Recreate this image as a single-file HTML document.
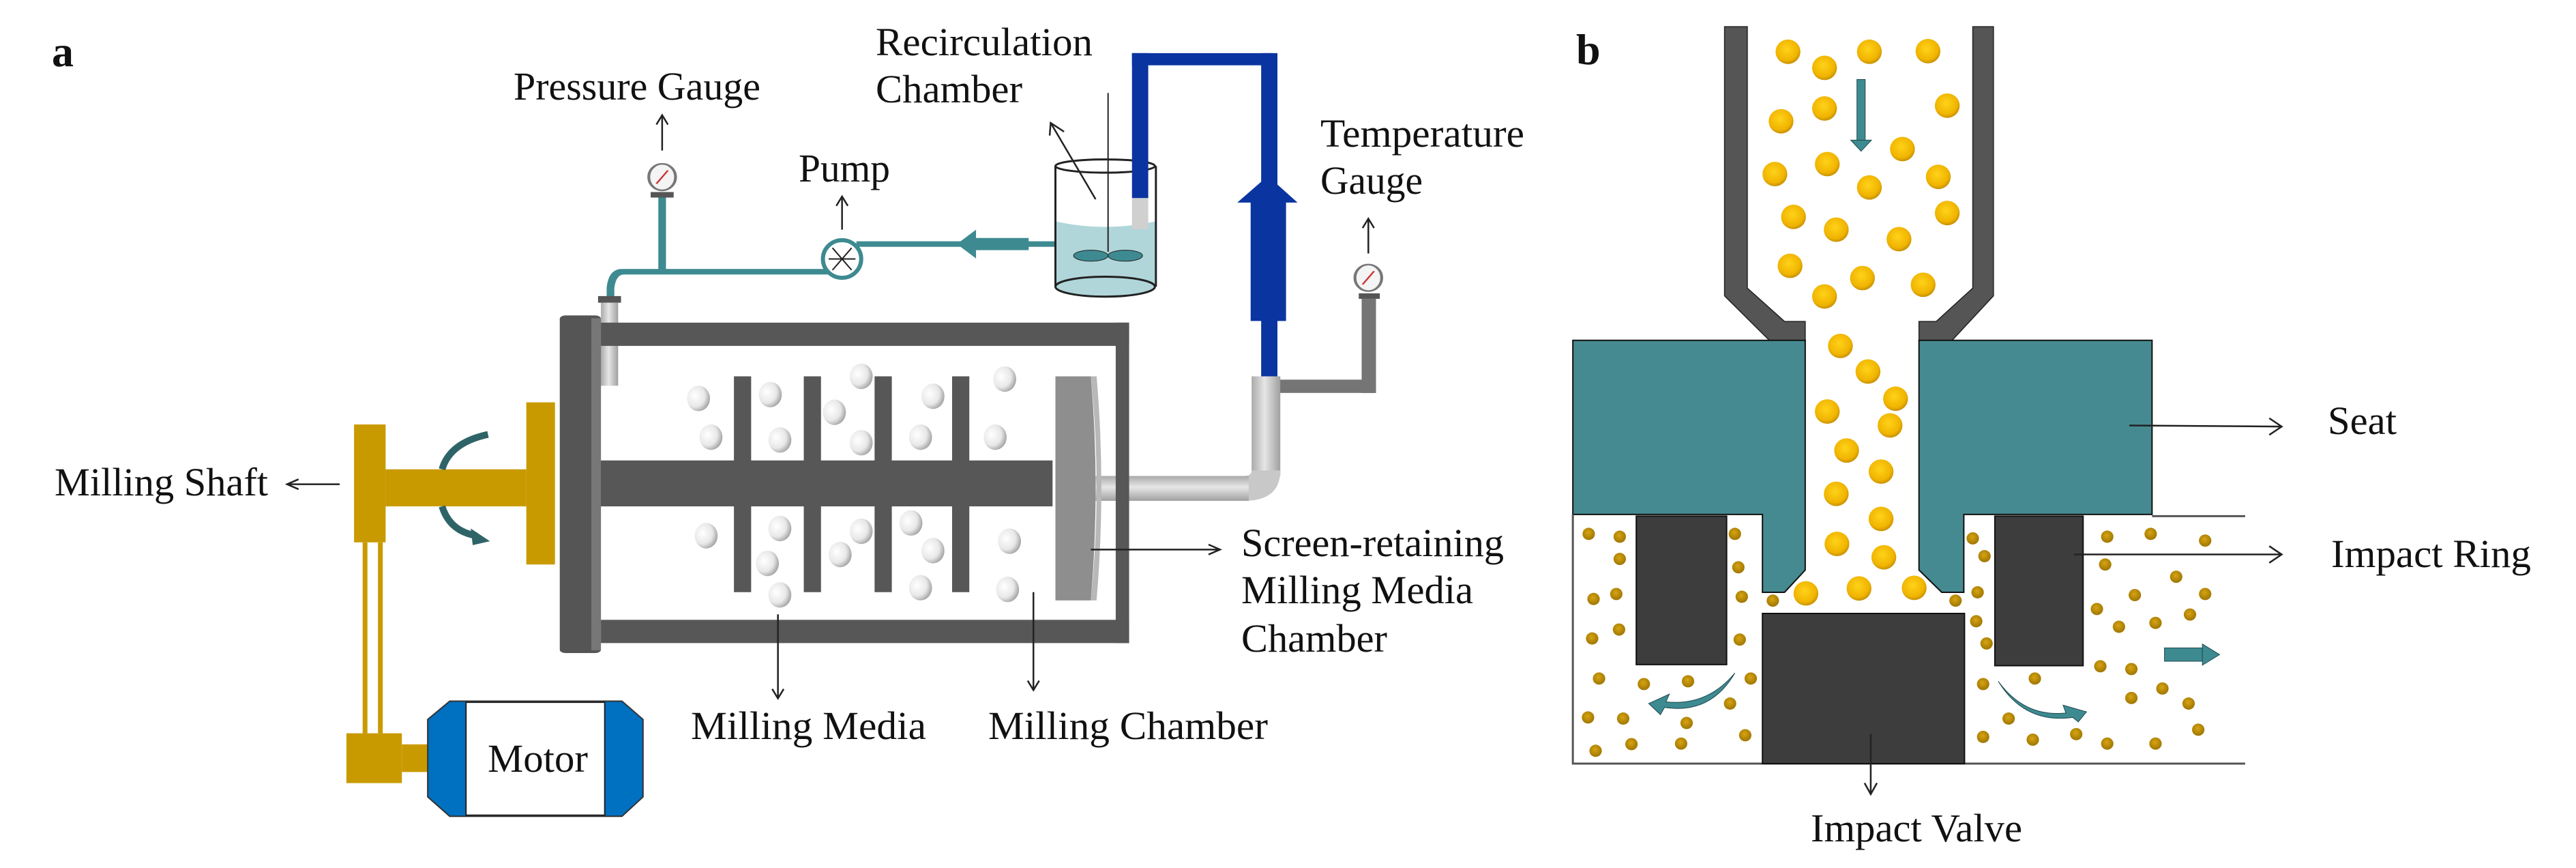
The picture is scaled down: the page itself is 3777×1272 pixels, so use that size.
<!DOCTYPE html>
<html><head><meta charset="utf-8">
<style>
html,body{margin:0;padding:0;background:#fff;}
svg{display:block;}
text{font-family:"Liberation Serif","DejaVu Serif",serif;fill:#111;}
</style></head>
<body>
<svg width="3777" height="1272" viewBox="0 0 3777 1272" xmlns="http://www.w3.org/2000/svg">
<defs>
<radialGradient id="ball" cx="0.35" cy="0.4" r="0.7">
<stop offset="0" stop-color="#ffffff"/><stop offset="0.6" stop-color="#e8e8e8"/><stop offset="1" stop-color="#9a9a9a"/></radialGradient>
<radialGradient id="gold" cx="0.45" cy="0.4" r="0.65">
<stop offset="0" stop-color="#ffd21a"/><stop offset="0.7" stop-color="#f0b400"/><stop offset="1" stop-color="#b98400"/></radialGradient>
<radialGradient id="gold2" cx="0.45" cy="0.4" r="0.65">
<stop offset="0" stop-color="#d7a412"/><stop offset="1" stop-color="#9a7200"/></radialGradient>
<linearGradient id="pipeV" x1="0" x2="1" y1="0" y2="0">
<stop offset="0" stop-color="#aaa"/><stop offset="0.45" stop-color="#e6e6e6"/><stop offset="1" stop-color="#a0a0a0"/></linearGradient>
<linearGradient id="pipeH" x1="0" x2="0" y1="0" y2="1">
<stop offset="0" stop-color="#aaa"/><stop offset="0.45" stop-color="#e6e6e6"/><stop offset="1" stop-color="#a0a0a0"/></linearGradient>
</defs>

<g transform="matrix(1.403,0,0,0.811,0,0)">
  <g fill="#3e8a91">
    <rect x="688" y="355" width="8" height="140"/>
    <rect x="650" y="486" width="220" height="10"/>
    <path d="M650 486 Q636 486 634 520 L634 540 L642 540 L642 520 Q644 496 652 496 Z"/>
    <rect x="895" y="436" width="210" height="10"/>
    <rect x="1015" y="430" width="60" height="22"/>
    <polygon points="1000,441 1020,415 1020,467"/>
  </g>
  <rect x="680" y="347" width="24" height="10" fill="#555"/>
  <ellipse cx="692" cy="320" rx="14" ry="24" fill="#f4f4f4" stroke="#777" stroke-width="3"/>
  <line x1="686" y1="332" x2="698" y2="308" stroke="#c33" stroke-width="2"/>
  <rect x="625" y="535" width="24" height="12" fill="#555"/>
  <rect x="628" y="547" width="18" height="150" fill="url(#pipeV)"/>
  <ellipse cx="880" cy="468" rx="20" ry="34" fill="#fff" stroke="#3e8a91" stroke-width="6" vector-effect="non-scaling-stroke"/>
  <g stroke="#222" stroke-width="2">
    <line x1="866" y1="468" x2="894" y2="468" vector-effect="non-scaling-stroke"/>
    <line x1="870" y1="448" x2="890" y2="488" vector-effect="non-scaling-stroke"/>
    <line x1="890" y1="448" x2="870" y2="488" vector-effect="non-scaling-stroke"/>
  </g>
  <path d="M1103 400 Q1155 420 1208 400 L1208 518 L1103 518 Z" fill="#b0d6da"/>
  <ellipse cx="1155" cy="518" rx="52" ry="18" fill="#b0d6da" stroke="#222" stroke-width="3" vector-effect="non-scaling-stroke"/>
  <line x1="1103" y1="300" x2="1103" y2="518" stroke="#222" stroke-width="3" vector-effect="non-scaling-stroke"/>
  <line x1="1208" y1="300" x2="1208" y2="518" stroke="#222" stroke-width="3" vector-effect="non-scaling-stroke"/>
  <ellipse cx="1155" cy="300" rx="52" ry="12" fill="none" stroke="#222" stroke-width="3" vector-effect="non-scaling-stroke"/>
  <line x1="1158" y1="168" x2="1158" y2="455" stroke="#222" stroke-width="2" vector-effect="non-scaling-stroke"/>
  <ellipse cx="1140" cy="462" rx="18" ry="10" fill="#3e8a91" stroke="#222" stroke-width="1" vector-effect="non-scaling-stroke"/>
  <ellipse cx="1176" cy="462" rx="18" ry="10" fill="#3e8a91" stroke="#222" stroke-width="1" vector-effect="non-scaling-stroke"/>
  <line x1="1145" y1="360" x2="1098" y2="222" stroke="#222" stroke-width="2.5" vector-effect="non-scaling-stroke"/>
  <polyline points="1097,245 1098,222 1112,238" fill="none" stroke="#222" stroke-width="2.5" vector-effect="non-scaling-stroke"/>
  <g fill="#0a34a0">
    <rect x="1183" y="96" width="147" height="22"/>
    <rect x="1183" y="96" width="17" height="262"/>
    <rect x="1318" y="96" width="17" height="590"/>
    <rect x="1307" y="365" width="37" height="215"/>
    <polygon points="1325,318 1356,366 1293,366"/>
  </g>
  <rect x="1183" y="358" width="17" height="56" fill="#d0d0d0"/>
  <rect x="1420" y="530" width="22" height="10" fill="#555"/>
  <ellipse cx="1430" cy="502" rx="14" ry="24" fill="#f4f4f4" stroke="#777" stroke-width="3"/>
  <line x1="1424" y1="514" x2="1436" y2="490" stroke="#c33" stroke-width="2"/>
  <rect x="1423" y="540" width="15" height="170" fill="#757575"/>
  <rect x="1330" y="686" width="108" height="24" fill="#757575"/>
  <rect x="1308" y="680" width="30" height="180" fill="url(#pipeV)"/>
  <path d="M1308 850 L1338 850 Q1338 905 1300 905 L1300 860 Q1308 860 1308 850 Z" fill="#c8c8c8"/>
  <rect x="1145" y="860" width="160" height="45" fill="url(#pipeH)"/>
  <rect x="628" y="583" width="552" height="42" fill="#575757"/>
  <rect x="628" y="1120" width="552" height="42" fill="#575757"/>
  <rect x="1166" y="583" width="14" height="579" fill="#575757"/>
  <rect x="620" y="832" width="480" height="83" fill="#575757"/>
  <rect x="585" y="570" width="43" height="610" rx="6" fill="#555"/>
  <rect x="618" y="575" width="10" height="600" fill="#777"/>
  <g fill="#575757">
    <rect x="767" y="680" width="18" height="390"/>
    <rect x="840" y="680" width="18" height="390"/>
    <rect x="914" y="680" width="18" height="390"/>
    <rect x="995" y="680" width="18" height="390"/>
  </g>
  <path d="M1103 680 L1140 680 Q1150 880 1140 1085 L1103 1085 Z" fill="#8e8e8e"/>
  <path d="M1140 680 Q1152 880 1140 1085 L1146 1085 Q1156 880 1146 680 Z" fill="#b8b8b8"/>
  <g fill="url(#ball)">
    <ellipse cx="730" cy="720" rx="12" ry="23"/><ellipse cx="805" cy="713" rx="12" ry="23"/>
    <ellipse cx="872" cy="745" rx="12" ry="23"/><ellipse cx="900" cy="680" rx="12" ry="23"/>
    <ellipse cx="975" cy="716" rx="12" ry="23"/><ellipse cx="1050" cy="685" rx="12" ry="23"/>
    <ellipse cx="743" cy="790" rx="12" ry="23"/><ellipse cx="815" cy="795" rx="12" ry="23"/>
    <ellipse cx="900" cy="800" rx="12" ry="23"/><ellipse cx="962" cy="790" rx="12" ry="23"/>
    <ellipse cx="1040" cy="790" rx="12" ry="23"/>
    <ellipse cx="738" cy="968" rx="12" ry="23"/><ellipse cx="815" cy="955" rx="12" ry="23"/>
    <ellipse cx="900" cy="960" rx="12" ry="23"/><ellipse cx="952" cy="945" rx="12" ry="23"/>
    <ellipse cx="975" cy="995" rx="12" ry="23"/><ellipse cx="1055" cy="978" rx="12" ry="23"/>
    <ellipse cx="802" cy="1018" rx="12" ry="23"/><ellipse cx="878" cy="1002" rx="12" ry="23"/>
    <ellipse cx="815" cy="1075" rx="12" ry="23"/><ellipse cx="962" cy="1062" rx="12" ry="23"/>
    <ellipse cx="1053" cy="1065" rx="12" ry="23"/>
  </g>
  <g fill="#c99a00">
    <rect x="370" y="767" width="33" height="213"/>
    <rect x="403" y="848" width="147" height="67"/>
    <rect x="550" y="727" width="30" height="293"/>
    <rect x="379" y="980" width="5" height="345"/>
    <rect x="395" y="980" width="5" height="345"/>
    <rect x="362" y="1325" width="58" height="90"/>
    <rect x="420" y="1345" width="30" height="50"/>
  </g>
  <path d="M510 785 Q470 800 462 848" fill="none" stroke="#2e6468" stroke-width="10" vector-effect="non-scaling-stroke"/>
  <path d="M462 915 Q470 960 498 968" fill="none" stroke="#2e6468" stroke-width="10" vector-effect="non-scaling-stroke"/>
  <polygon points="512,978 492,955 494,985" fill="#2e6468"/>
  <polygon points="470,1267 650,1267 672,1300 672,1440 650,1475 470,1475 447,1440 447,1300" fill="#0070c0" stroke="#333" stroke-width="2" vector-effect="non-scaling-stroke"/>
  <rect x="487" y="1269" width="145" height="204" fill="#fff" stroke="#222" stroke-width="2" vector-effect="non-scaling-stroke"/>
  <g stroke="#222" stroke-width="2.5" fill="none">
    <line x1="692" y1="272" x2="692" y2="208" vector-effect="non-scaling-stroke"/>
    <polyline points="686,225 692,208 698,225" vector-effect="non-scaling-stroke"/>
    <line x1="880" y1="415" x2="880" y2="355" vector-effect="non-scaling-stroke"/>
    <polyline points="874,372 880,355 886,372" vector-effect="non-scaling-stroke"/>
    <line x1="1430" y1="458" x2="1430" y2="395" vector-effect="non-scaling-stroke"/>
    <polyline points="1424,412 1430,395 1436,412" vector-effect="non-scaling-stroke"/>
    <line x1="355" y1="875" x2="300" y2="875" vector-effect="non-scaling-stroke"/>
    <polyline points="312,866 300,875 312,884" vector-effect="non-scaling-stroke"/>
    <line x1="1140" y1="993" x2="1275" y2="993" vector-effect="non-scaling-stroke"/>
    <polyline points="1263,984 1275,993 1263,1002" vector-effect="non-scaling-stroke"/>
    <line x1="813" y1="1110" x2="813" y2="1262" vector-effect="non-scaling-stroke"/>
    <polyline points="807,1245 813,1262 819,1245" vector-effect="non-scaling-stroke"/>
    <line x1="1080" y1="1070" x2="1080" y2="1247" vector-effect="non-scaling-stroke"/>
    <polyline points="1074,1230 1080,1247 1086,1230" vector-effect="non-scaling-stroke"/>
  </g>
</g>

<text x="76" y="97" style="font-weight:bold;font-size:64px">a</text>
<text x="753" y="146" style="font-size:58px" textLength="362" lengthAdjust="spacingAndGlyphs">Pressure Gauge</text>
<text x="1284" y="81" style="font-size:58px" textLength="318" lengthAdjust="spacingAndGlyphs">Recirculation</text>
<text x="1284" y="150" style="font-size:58px" textLength="215" lengthAdjust="spacingAndGlyphs">Chamber</text>
<text x="1171" y="266" style="font-size:58px" textLength="134" lengthAdjust="spacingAndGlyphs">Pump</text>
<text x="1936" y="215" style="font-size:58px" textLength="299" lengthAdjust="spacingAndGlyphs">Temperature</text>
<text x="1936" y="284" style="font-size:58px" textLength="150" lengthAdjust="spacingAndGlyphs">Gauge</text>
<text x="80" y="726" style="font-size:58px" textLength="313" lengthAdjust="spacingAndGlyphs">Milling Shaft</text>
<text x="1820" y="815" style="font-size:58px" textLength="385" lengthAdjust="spacingAndGlyphs">Screen-retaining</text>
<text x="1820" y="884" style="font-size:58px" textLength="340" lengthAdjust="spacingAndGlyphs">Milling Media</text>
<text x="1820" y="955" style="font-size:58px" textLength="214" lengthAdjust="spacingAndGlyphs">Chamber</text>
<text x="1013" y="1083" style="font-size:58px" textLength="345" lengthAdjust="spacingAndGlyphs">Milling Media</text>
<text x="1449" y="1083" style="font-size:58px" textLength="410" lengthAdjust="spacingAndGlyphs">Milling Chamber</text>
<text x="715" y="1131" style="font-size:58px" textLength="147" lengthAdjust="spacingAndGlyphs">Motor</text>

<g transform="matrix(1.011,0,0,0.815,2200,0)">
  <polygon points="325,48 358,48 358,518 412,578 442,578 442,612 390,612 325,532" fill="#555" stroke="#222" stroke-width="1.5" vector-effect="non-scaling-stroke"/>
  <polygon points="715,48 685,48 685,518 632,578 607,578 607,612 655,612 715,532" fill="#555" stroke="#222" stroke-width="1.5" vector-effect="non-scaling-stroke"/>
  <polygon points="105,612 442,612 442,1025 412,1065 380,1065 380,925 105,925" fill="#468a91" stroke="#111" stroke-width="2" vector-effect="non-scaling-stroke"/>
  <polygon points="607,612 945,612 945,925 672,925 672,1065 640,1065 607,1025" fill="#468a91" stroke="#111" stroke-width="2" vector-effect="non-scaling-stroke"/>
  <g stroke="#555" stroke-width="3" fill="none">
    <polyline points="105,925 105,1373 1080,1373" vector-effect="non-scaling-stroke"/>
    <line x1="945" y1="928" x2="1080" y2="928" vector-effect="non-scaling-stroke"/>
  </g>
  <g fill="#3d3d3d" stroke="#111" stroke-width="2">
    <rect x="197" y="928" width="131" height="267" vector-effect="non-scaling-stroke"/>
    <rect x="717" y="928" width="128" height="269" vector-effect="non-scaling-stroke"/>
    <rect x="380" y="1103" width="293" height="270" vector-effect="non-scaling-stroke"/>
  </g>
  <g fill="url(#gold)">
    <ellipse cx="417" cy="93" rx="18" ry="22"/><ellipse cx="470" cy="122" rx="18" ry="22"/>
    <ellipse cx="535" cy="93" rx="18" ry="22"/><ellipse cx="620" cy="92" rx="18" ry="22"/>
    <ellipse cx="407" cy="218" rx="18" ry="22"/><ellipse cx="470" cy="195" rx="18" ry="22"/>
    <ellipse cx="648" cy="190" rx="18" ry="22"/><ellipse cx="583" cy="268" rx="18" ry="22"/>
    <ellipse cx="398" cy="313" rx="18" ry="22"/><ellipse cx="474" cy="295" rx="18" ry="22"/>
    <ellipse cx="535" cy="337" rx="18" ry="22"/><ellipse cx="635" cy="318" rx="18" ry="22"/>
    <ellipse cx="425" cy="390" rx="18" ry="22"/><ellipse cx="487" cy="413" rx="18" ry="22"/>
    <ellipse cx="578" cy="430" rx="18" ry="22"/><ellipse cx="648" cy="383" rx="18" ry="22"/>
    <ellipse cx="420" cy="478" rx="18" ry="22"/><ellipse cx="525" cy="500" rx="18" ry="22"/>
    <ellipse cx="470" cy="533" rx="18" ry="22"/><ellipse cx="613" cy="512" rx="18" ry="22"/>
    <ellipse cx="493" cy="622" rx="18" ry="22"/><ellipse cx="533" cy="668" rx="18" ry="22"/>
    <ellipse cx="573" cy="717" rx="18" ry="22"/><ellipse cx="474" cy="740" rx="18" ry="22"/>
    <ellipse cx="565" cy="765" rx="18" ry="22"/><ellipse cx="502" cy="810" rx="18" ry="22"/>
    <ellipse cx="552" cy="848" rx="18" ry="22"/><ellipse cx="487" cy="888" rx="18" ry="22"/>
    <ellipse cx="552" cy="933" rx="18" ry="22"/><ellipse cx="488" cy="978" rx="18" ry="22"/>
    <ellipse cx="556" cy="1002" rx="18" ry="22"/><ellipse cx="443" cy="1067" rx="18" ry="22"/>
    <ellipse cx="520" cy="1058" rx="18" ry="22"/><ellipse cx="600" cy="1057" rx="18" ry="22"/>
  </g>
  <g fill="url(#gold2)">
    <ellipse cx="128" cy="960" rx="9" ry="11"/><ellipse cx="173" cy="965" rx="9" ry="11"/>
    <ellipse cx="173" cy="1005" rx="9" ry="11"/><ellipse cx="340" cy="960" rx="9" ry="11"/>
    <ellipse cx="345" cy="1020" rx="9" ry="11"/><ellipse cx="135" cy="1077" rx="9" ry="11"/>
    <ellipse cx="168" cy="1068" rx="9" ry="11"/><ellipse cx="350" cy="1073" rx="9" ry="11"/>
    <ellipse cx="395" cy="1080" rx="9" ry="11"/><ellipse cx="660" cy="1080" rx="9" ry="11"/>
    <ellipse cx="133" cy="1148" rx="9" ry="11"/><ellipse cx="172" cy="1132" rx="9" ry="11"/>
    <ellipse cx="347" cy="1150" rx="9" ry="11"/><ellipse cx="143" cy="1220" rx="9" ry="11"/>
    <ellipse cx="208" cy="1230" rx="9" ry="11"/><ellipse cx="272" cy="1225" rx="9" ry="11"/>
    <ellipse cx="363" cy="1220" rx="9" ry="11"/><ellipse cx="333" cy="1265" rx="9" ry="11"/>
    <ellipse cx="127" cy="1290" rx="9" ry="11"/><ellipse cx="178" cy="1292" rx="9" ry="11"/>
    <ellipse cx="270" cy="1300" rx="9" ry="11"/><ellipse cx="190" cy="1338" rx="9" ry="11"/>
    <ellipse cx="262" cy="1337" rx="9" ry="11"/><ellipse cx="138" cy="1350" rx="9" ry="11"/>
    <ellipse cx="355" cy="1322" rx="9" ry="11"/><ellipse cx="685" cy="968" rx="9" ry="11"/>
    <ellipse cx="702" cy="1000" rx="9" ry="11"/><ellipse cx="692" cy="1065" rx="9" ry="11"/>
    <ellipse cx="690" cy="1117" rx="9" ry="11"/><ellipse cx="705" cy="1157" rx="9" ry="11"/>
    <ellipse cx="700" cy="1230" rx="9" ry="11"/><ellipse cx="775" cy="1220" rx="9" ry="11"/>
    <ellipse cx="737" cy="1292" rx="9" ry="11"/><ellipse cx="700" cy="1325" rx="9" ry="11"/>
    <ellipse cx="772" cy="1330" rx="9" ry="11"/><ellipse cx="835" cy="1320" rx="9" ry="11"/>
    <ellipse cx="880" cy="1337" rx="9" ry="11"/><ellipse cx="950" cy="1337" rx="9" ry="11"/>
    <ellipse cx="1012" cy="1312" rx="9" ry="11"/><ellipse cx="880" cy="965" rx="9" ry="11"/>
    <ellipse cx="943" cy="960" rx="9" ry="11"/><ellipse cx="1022" cy="972" rx="9" ry="11"/>
    <ellipse cx="877" cy="1015" rx="9" ry="11"/><ellipse cx="980" cy="1037" rx="9" ry="11"/>
    <ellipse cx="920" cy="1070" rx="9" ry="11"/><ellipse cx="1022" cy="1068" rx="9" ry="11"/>
    <ellipse cx="865" cy="1095" rx="9" ry="11"/><ellipse cx="897" cy="1127" rx="9" ry="11"/>
    <ellipse cx="950" cy="1120" rx="9" ry="11"/><ellipse cx="1000" cy="1105" rx="9" ry="11"/>
    <ellipse cx="870" cy="1198" rx="9" ry="11"/><ellipse cx="915" cy="1203" rx="9" ry="11"/>
    <ellipse cx="960" cy="1238" rx="9" ry="11"/><ellipse cx="915" cy="1255" rx="9" ry="11"/>
    <ellipse cx="998" cy="1265" rx="9" ry="11"/>
  </g>
  <g fill="#3e8a91" stroke="#1e4a4e" stroke-width="1">
    <rect x="517" y="143" width="12" height="110" vector-effect="non-scaling-stroke"/>
    <polygon points="508,252 538,252 523,272" vector-effect="non-scaling-stroke"/>
    <rect x="963" y="1165" width="55" height="24" vector-effect="non-scaling-stroke"/>
    <polygon points="1018,1158 1043,1177 1018,1196" vector-effect="non-scaling-stroke"/>
    <path d="M340 1210 Q300 1270 240 1262 L245 1248 L215 1265 L232 1285 L238 1272 Q305 1285 340 1210 Z" vector-effect="non-scaling-stroke"/>
    <path d="M722 1225 Q760 1290 820 1282 L816 1268 L850 1280 L838 1298 L830 1290 Q760 1302 722 1225 Z" vector-effect="non-scaling-stroke"/>
  </g>
  <g stroke="#222" stroke-width="2.5" fill="none">
    <line x1="912" y1="765" x2="1133" y2="767" vector-effect="non-scaling-stroke"/>
    <polyline points="1115,752 1133,767 1115,782" vector-effect="non-scaling-stroke"/>
    <line x1="832" y1="997" x2="1133" y2="997" vector-effect="non-scaling-stroke"/>
    <polyline points="1115,982 1133,997 1115,1012" vector-effect="non-scaling-stroke"/>
    <line x1="537" y1="1320" x2="537" y2="1428" vector-effect="non-scaling-stroke"/>
    <polyline points="528,1408 537,1428 546,1408" vector-effect="non-scaling-stroke"/>
  </g>
</g>
<text x="2311" y="94" style="font-weight:bold;font-size:64px">b</text>
<text x="3413" y="636" style="font-size:58px" textLength="101" lengthAdjust="spacingAndGlyphs">Seat</text>
<text x="3418" y="831" style="font-size:58px" textLength="293" lengthAdjust="spacingAndGlyphs">Impact Ring</text>
<text x="2655" y="1233" style="font-size:58px" textLength="310" lengthAdjust="spacingAndGlyphs">Impact Valve</text>
</svg>
</body></html>
